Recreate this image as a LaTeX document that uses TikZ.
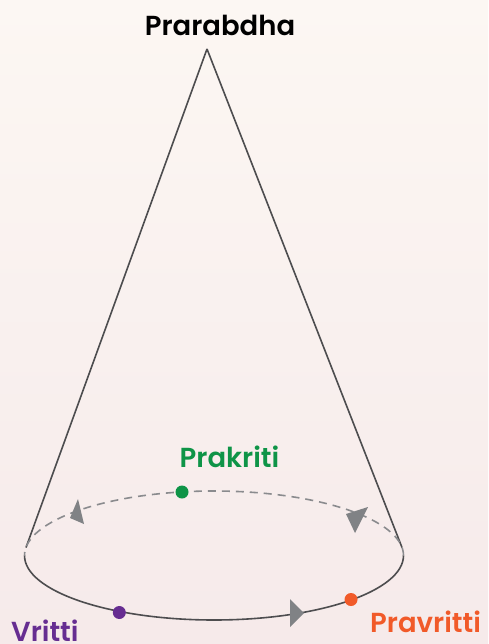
\documentclass[tikz,border=0pt]{standalone}
\usepackage{fontspec}
\setmainfont{Poppins}[UprightFont={* SemiBold}]
\definecolor{bgtop}{HTML}{FCF7F3}
\definecolor{bgbot}{HTML}{F6EAEA}
\definecolor{conegray}{HTML}{4D4D4F}
\definecolor{dashgray}{HTML}{8A8B8E}
\definecolor{tipgray}{HTML}{808285}
\definecolor{prakgreen}{HTML}{0E9447}
\definecolor{vritpurple}{HTML}{662D91}
\definecolor{pravorange}{HTML}{F15A29}
\tikzset{
  coneline/.style={draw=conegray, line width=1.6pt},
  backline/.style={draw=dashgray, line width=1.6pt, dash pattern=on 8pt off 6pt},
  dot/.style={circle, inner sep=0pt, minimum size=13pt},
  lbl/.style={font=\fontsize{27.5}{32}\selectfont, inner sep=0pt},
  tip/.style={fill=tipgray}
}
\begin{document}
\begin{tikzpicture}[x=1pt,y=-1pt]
\shade[top color=bgtop, bottom color=bgbot] (0,0) rectangle (488,644);
\useasboundingbox (0,0) rectangle (488,644);
% cone
\coordinate (apex) at (207,49);
\coordinate (L) at (24.5,555.5);
\coordinate (R) at (403.5,555.5);
\coordinate (tl) at (26,547.5);
\coordinate (tr) at (402,547.5);
\draw[coneline] (apex) -- (tl);
\draw[coneline] (apex) -- (tr);
% back half dashed
\draw[backline] (R) arc[start angle=0, end angle=180, x radius=189.5pt, y radius=64.5pt];
% front half solid
\draw[coneline] (L) arc[start angle=180, end angle=360, x radius=189.5pt, y radius=64.5pt];
% direction tips
\fill[tip] (78,499) -- (70,518) -- (84,524) -- cycle;
\fill[tip] (346,514) -- (368,507) -- (355,533) -- cycle;
\fill[tip] (290,599) -- (304,613) -- (290,627) -- cycle;
% dots
\node[dot, fill=prakgreen] (prak) at (182,492) {};
\node[dot, fill=vritpurple] (vrit) at (119.3,612.5) {};
\node[dot, fill=pravorange] (prav) at (351,599.5) {};
% labels
\node[lbl, anchor=base, text=black] (prarabdha) at (220,36) {Prarabdha};
\node[lbl, anchor=base, text=prakgreen] (prakl) at (229.5,467) {Prakriti};
\node[lbl, anchor=base west, text=vritpurple] (vritl) at (11,641) {Vritti};
\node[lbl, anchor=base west, text=pravorange] (pravl) at (370,632) {Pravritti};
\end{tikzpicture}
\end{document}
